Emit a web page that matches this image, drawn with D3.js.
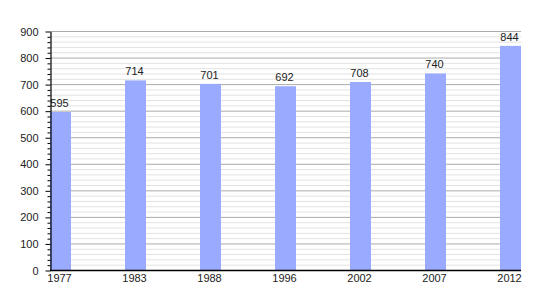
<!DOCTYPE html>
<html>
<head>
<meta charset="utf-8">
<script src="https://d3js.org/d3.v7.min.js"></script>
<style>
  body { margin: 0; background: #fff; }
  svg { display: block; font-family: "Liberation Sans", Arial, sans-serif; }
</style>
</head>
<body>
<svg id="chart" width="550" height="300"></svg>
<script>
// Population by census year
const years = ["1977", "1983", "1988", "1996", "2002", "2007", "2012"];
const population = [595, 714, 701, 692, 708, 740, 844];
const majorTicks = [0, 100, 200, 300, 400, 500, 600, 700, 800, 900];
const minorTicks = d3.range(0, 901, 20).filter(v => v % 100 !== 0);

const svg = d3.select("#chart");
const plotLeft = 50, plotRight = 521, plotTop = 31, plotBottom = 270;

const x = d3.scaleBand()
  .domain(years)
  .range([plotLeft, plotRight])
  .paddingInner(0.72)
  .paddingOuter(0)
  .align(0);

const y = d3.scaleLinear()
  .domain([0, 900])
  .range([plotBottom, plotTop]);

// grid: light minor lines every 20, darker major every 100
svg.append("g")
  .selectAll("line")
  .data(minorTicks)
  .join("line")
  .attr("x1", plotLeft)
  .attr("x2", plotRight)
  .attr("y1", d => y(d) + 0.5)
  .attr("y2", d => y(d) + 0.5)
  .attr("stroke", "#e2e2e2");

svg.append("g")
  .selectAll("line")
  .data(majorTicks.filter(d => d > 0))
  .join("line")
  .attr("x1", plotLeft)
  .attr("x2", plotRight)
  .attr("y1", d => y(d) + 0.5)
  .attr("y2", d => y(d) + 0.5)
  .attr("stroke", "#aaaaaa");

svg.append("g")
  .selectAll("rect")
  .data(population)
  .join("rect")
  .attr("x", (d, i) => x(years[i]))
  .attr("y", d => y(d))
  .attr("width", x.bandwidth())
  .attr("height", d => plotBottom - y(d))
  .attr("fill", "#99aaff");

svg.append("g")
  .selectAll("text")
  .data(population)
  .join("text")
  .attr("x", (d, i) => x(years[i]) + x.bandwidth() / 2 - 1)
  .attr("y", d => y(d) - 5)
  .attr("text-anchor", "middle")
  .attr("font-size", 11)
  .attr("fill", "#222")
  .text(d => d);

// minor ticks on the y axis
svg.append("g")
  .attr("transform", `translate(${plotLeft + 0.5},0.5)`)
  .call(d3.axisLeft(y).tickValues(minorTicks).tickSize(3).tickFormat(""))
  .call(a => a.select(".domain").remove())
  .call(a => a.selectAll(".tick line").attr("stroke", "#000"));

svg.append("g")
  .attr("transform", `translate(${plotLeft + 0.5},0.5)`)
  .call(d3.axisLeft(y).tickValues(majorTicks).tickSize(5).tickSizeOuter(0).tickPadding(7))
  .call(a => {
    a.select(".domain").attr("stroke", "#000").attr("stroke-width", 1.2);
    a.selectAll(".tick line").attr("stroke", "#000");
    a.selectAll("text").attr("font-size", 11).attr("fill", "#222")
      .attr("font-family", "Liberation Sans, Arial, sans-serif");
  });

svg.append("g")
  .attr("transform", `translate(0,${plotBottom + 0.5})`)
  .call(d3.axisBottom(x).tickSize(0).tickSizeOuter(0).tickPadding(4))
  .call(a => {
    a.select(".domain").attr("stroke", "#000").attr("stroke-width", 1.5)
      .attr("d", `M${plotLeft},0H${plotRight}`);
    a.selectAll("text").attr("font-size", 11).attr("fill", "#222")
      .attr("transform", "translate(-1,0)")
      .attr("font-family", "Liberation Sans, Arial, sans-serif");
  });
</script>
</body>
</html>
